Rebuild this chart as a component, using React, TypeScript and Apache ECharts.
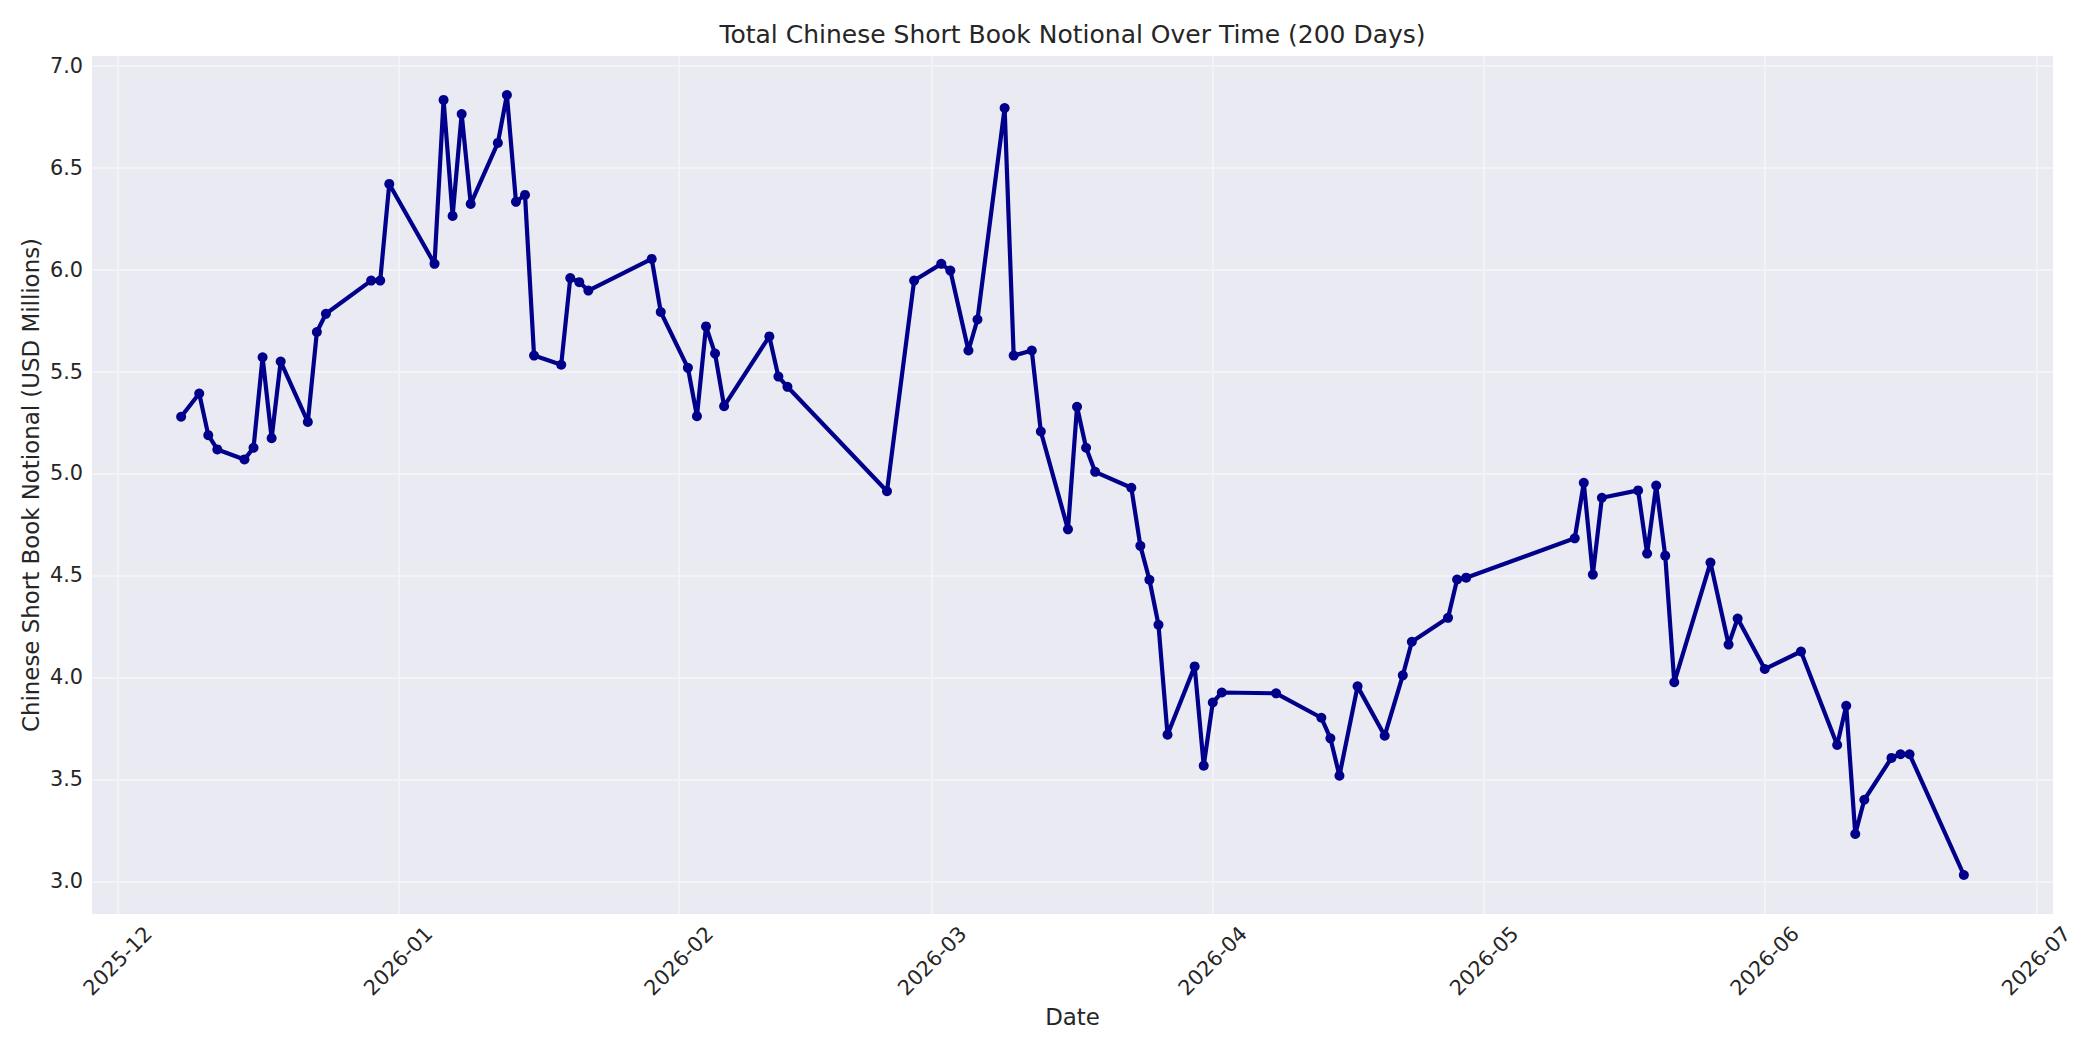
import { useEffect, useRef } from 'react';
import * as echarts from 'echarts';

// Business days sampled over the 200-day window (2025-12 .. 2026-06)
const dates: string[] = [
  '2025-12-08', '2025-12-10', '2025-12-11', '2025-12-12', '2025-12-15', '2025-12-16',
  '2025-12-17', '2025-12-18', '2025-12-19', '2025-12-22', '2025-12-23', '2025-12-24',
  '2025-12-29', '2025-12-30', '2025-12-31', '2026-01-05', '2026-01-06', '2026-01-07',
  '2026-01-08', '2026-01-09', '2026-01-12', '2026-01-13', '2026-01-14', '2026-01-15',
  '2026-01-16', '2026-01-19', '2026-01-20', '2026-01-21', '2026-01-22', '2026-01-29',
  '2026-01-30', '2026-02-02', '2026-02-03', '2026-02-04', '2026-02-05', '2026-02-06',
  '2026-02-11', '2026-02-12', '2026-02-13', '2026-02-24', '2026-02-27', '2026-03-02',
  '2026-03-03', '2026-03-05', '2026-03-06', '2026-03-09', '2026-03-10', '2026-03-12',
  '2026-03-13', '2026-03-16', '2026-03-17', '2026-03-18', '2026-03-19', '2026-03-23',
  '2026-03-24', '2026-03-25', '2026-03-26', '2026-03-27', '2026-03-30', '2026-03-31',
  '2026-04-01', '2026-04-02', '2026-04-08', '2026-04-13', '2026-04-14', '2026-04-15',
  '2026-04-17', '2026-04-20', '2026-04-22', '2026-04-23', '2026-04-27', '2026-04-28',
  '2026-04-29', '2026-05-11', '2026-05-12', '2026-05-13', '2026-05-14', '2026-05-18',
  '2026-05-19', '2026-05-20', '2026-05-21', '2026-05-22', '2026-05-26', '2026-05-28',
  '2026-05-29', '2026-06-01', '2026-06-05', '2026-06-09', '2026-06-10', '2026-06-11',
  '2026-06-12', '2026-06-15', '2026-06-16', '2026-06-17', '2026-06-23',
];

// Total notional, USD millions
const notional: number[] = [
  5.278, 5.392, 5.188, 5.118, 5.069, 5.126,
  5.570, 5.173, 5.549, 5.253, 5.694, 5.783,
  5.946, 5.946, 6.420, 6.028, 6.832, 6.263,
  6.763, 6.322, 6.621, 6.856, 6.332, 6.366,
  5.578, 5.533, 5.958, 5.938, 5.897, 6.052,
  5.792, 5.518, 5.281, 5.721, 5.588, 5.330,
  5.672, 5.475, 5.425, 4.913, 5.946, 6.028,
  5.995, 5.603, 5.755, 6.792, 5.578, 5.603,
  5.206, 4.726, 5.327, 5.126, 5.008, 4.930,
  4.645, 4.479, 4.258, 3.719, 4.054, 3.567,
  3.877, 3.926, 3.922, 3.802, 3.701, 3.518,
  3.956, 3.714, 4.010, 4.175, 4.292, 4.480,
  4.489, 4.682, 4.954, 4.504, 4.881, 4.917,
  4.607, 4.941, 4.597, 3.976, 4.563, 4.161,
  4.289, 4.041, 4.127, 3.669, 3.861, 3.232,
  3.400, 3.605, 3.623, 3.623, 3.031,
];

const monthTicks: string[] = [
  '2025-12-01', '2026-01-01', '2026-02-01', '2026-03-01',
  '2026-04-01', '2026-05-01', '2026-06-01', '2026-07-01',
];

const yTicks: number[] = [3.0, 3.5, 4.0, 4.5, 5.0, 5.5, 6.0, 6.5, 7.0];

const FONT = "'DejaVu Sans', sans-serif";
const TEXT = '#262626';
const LINE = '#00008B';

const toMs = (d: string) => {
  const [y, m, day] = d.split('-').map(Number);
  return Date.UTC(y, m - 1, day);
};

export default function App() {
  const chartRef = useRef<HTMLDivElement>(null);

  useEffect(() => {
    if (!chartRef.current) return;
    const chart = echarts.init(chartRef.current, undefined, { renderer: 'svg' });

    const xs = dates.map(toMs);
    const xSpan = xs[xs.length - 1] - xs[0];
    const yLo = Math.min(...notional);
    const yHi = Math.max(...notional);
    const ySpan = yHi - yLo;

    const gridL = 92;
    const gridR = 47;
    const gridT = 56;
    const gridB = 136;
    const plotCx = gridL + (2100 - gridL - gridR) / 2;
    const plotCy = gridT + (1050 - gridT - gridB) / 2;

    chart.setOption({
      animation: false,
      backgroundColor: '#ffffff',
      grid: {
        left: gridL,
        right: gridR,
        top: gridT,
        bottom: gridB,
        show: true,
        backgroundColor: '#EAEAF2',
        borderWidth: 0,
        outerBoundsMode: 'none',
      },
      graphic: [
        {
          type: 'text',
          x: plotCx,
          y: 34.5,
          style: {
            text: 'Total Chinese Short Book Notional Over Time (200 Days)',
            font: `25px ${FONT}`,
            fill: TEXT,
            align: 'center',
            verticalAlign: 'middle',
          },
        },
        {
          type: 'text',
          x: plotCx,
          y: 1017,
          style: {
            text: 'Date',
            font: `22.9px ${FONT}`,
            fill: TEXT,
            align: 'center',
            verticalAlign: 'middle',
          },
        },
        {
          type: 'text',
          x: 31,
          y: plotCy,
          rotation: Math.PI / 2,
          style: {
            text: 'Chinese Short Book Notional (USD Millions)',
            font: `22.9px ${FONT}`,
            fill: TEXT,
            align: 'center',
            verticalAlign: 'middle',
          },
        },
      ],
      xAxis: {
        type: 'value',
        min: xs[0] - 0.05 * xSpan,
        max: xs[xs.length - 1] + 0.05 * xSpan,
        axisLine: { show: false },
        axisTick: { show: false, customValues: monthTicks.map(toMs) },
        axisLabel: {
          customValues: monthTicks.map(toMs),
          rotate: 45,
          align: 'center',
          verticalAlign: 'middle',
          margin: 47,
          color: TEXT,
          fontFamily: FONT,
          fontSize: 20.8,
          formatter: (v: number) => {
            const d = new Date(v);
            return `${d.getUTCFullYear()}-${String(d.getUTCMonth() + 1).padStart(2, '0')}`;
          },
        },
        splitLine: { show: true, lineStyle: { color: '#F2F2F7', width: 2 } },
      },
      yAxis: {
        type: 'value',
        min: yLo - 0.05 * ySpan,
        max: yHi + 0.05 * ySpan,
        axisLine: { show: false },
        axisTick: { show: false, customValues: yTicks },
        axisLabel: {
          customValues: yTicks,
          margin: 9,
          color: TEXT,
          fontFamily: FONT,
          fontSize: 20.8,
          formatter: (v: number) => v.toFixed(1),
        },
        splitLine: { show: true, lineStyle: { color: '#F2F2F7', width: 2 } },
      },
      series: [
        {
          type: 'line',
          data: xs.map((x, i) => [x, notional[i]]),
          showSymbol: true,
          symbol: 'circle',
          symbolSize: 10,
          lineStyle: { color: LINE, width: 4.2 },
          itemStyle: { color: LINE },
        },
      ],
    });

    return () => {
      chart.dispose();
    };
  }, []);

  return (
    <div
      ref={chartRef}
      style={{ position: 'fixed', left: 0, top: 0, width: '2100px', height: '1050px' }}
    />
  );
}
